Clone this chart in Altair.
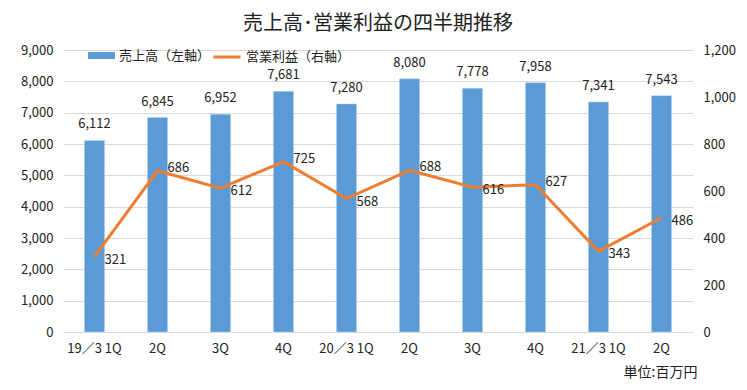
import json
import altair as alt
import pandas as pd

# ---- data ----
quarter_labels = ["19／3 1Q", "2Q", "3Q", "4Q", "20／3 1Q", "2Q", "3Q", "4Q", "21／3 1Q", "2Q"]
sales = [6112, 6845, 6952, 7681, 7280, 8080, 7778, 7958, 7341, 7543]
profit = [321, 686, 612, 725, 568, 688, 616, 627, 343, 486]
left_ticks = [0, 1000, 2000, 3000, 4000, 5000, 6000, 7000, 8000, 9000]
right_ticks = [0, 200, 400, 600, 800, 1000, 1200]

SALES_NAME = "売上高（左軸）"
PROFIT_NAME = "営業利益（右軸）"
BLUE = "#5B9BD5"
ORANGE = "#ED7D31"
FONT = "Noto Sans CJK JP"

df = pd.DataFrame({
    "idx": list(range(len(quarter_labels))),
    "sales": sales,
    "profit": profit,
    "s_series": SALES_NAME,
    "p_series": PROFIT_NAME,
})

label_expr = json.dumps(quarter_labels, ensure_ascii=False) + "[datum.value]"

x = alt.X(
    "idx:O",
    scale=alt.Scale(paddingInner=0.68, paddingOuter=0.34),
    axis=alt.Axis(
        labelExpr=label_expr, labelAngle=0, ticks=False, domain=True,
        domainColor="#D9D9D9", labelPadding=10, labelFontSize=13,
        title="単位:百万円", titleAnchor="end", titleAlign="right",
        titleX=634, titleY=44, titleBaseline="alphabetic",
        titleFontSize=14, titleFontWeight="normal", titleColor="#222",
    ),
)

y_l = alt.Y("sales:Q", scale=alt.Scale(domain=[0, 9000], nice=False),
            axis=alt.Axis(values=left_ticks, format=",.0f", grid=True, gridColor="#D9D9D9",
                          domain=False, ticks=False, labelPadding=10, labelFontSize=13, title=None))

y_r = alt.Y("profit:Q", scale=alt.Scale(domain=[0, 1200], nice=False),
            axis=alt.Axis(orient="right", values=right_ticks, format=",.0f", grid=False,
                          domain=False, ticks=False, labelPadding=10, labelFontSize=13, title=None))

base = alt.Chart(df)

bars = base.mark_bar(stroke="#BDD7EE", strokeWidth=0.5).encode(
    x=x,
    y=y_l,
    fill=alt.Fill("s_series:N", scale=alt.Scale(domain=[SALES_NAME], range=[BLUE]),
                  legend=alt.Legend(orient="none", legendX=25, legendY=-8, title=None,
                                    symbolType="M-1,-0.26L1,-0.26L1,0.26L-1,0.26Z",
                                    symbolSize=729, symbolStrokeWidth=0,
                                    labelFontSize=13, labelFont=FONT, labelColor="#222")),
)

bar_labels = base.mark_text(dy=-9, baseline="bottom", fontSize=13, font=FONT, color="#222").encode(
    x=x,
    y=y_l,
    text=alt.Text("sales:Q", format=","),
)

left = alt.layer(bars, bar_labels)

line = base.mark_line(strokeWidth=3).encode(
    x=x,
    y=y_r,
    stroke=alt.Stroke("p_series:N", scale=alt.Scale(domain=[PROFIT_NAME], range=[ORANGE]),
                      legend=alt.Legend(orient="none", legendX=149, legendY=-8, title=None,
                                        symbolType="stroke", symbolSize=729, symbolStrokeWidth=3,
                                        labelFontSize=13, labelFont=FONT, labelColor="#222")),
)

lab_base = base.transform_window(
    prev="lag(profit)", next="lead(profit)", sort=[alt.SortField("idx")]
).transform_calculate(
    kind="(datum.prev != null && datum.next != null && datum.profit >= datum.prev && datum.profit >= datum.next) ? 'peak' : 'trough'"
)

def plabel(kind, dy):
    return lab_base.transform_filter(f"datum.kind == '{kind}'").mark_text(
        align="left", dx=10, dy=dy, baseline="middle", fontSize=13, font=FONT, color="#222"
    ).encode(
        x=x,
        y=y_r,
        text=alt.Text("profit:Q", format=","),
    )

right = alt.layer(line, plabel("peak", -3), plabel("trough", 3))

chart = alt.layer(left, right).resolve_scale(y="independent", fill="independent", stroke="independent").properties(
    width=630, height=282,
    autosize=alt.AutoSizeParams(type="none"),
    padding={"left": 55, "top": 42, "right": 46, "bottom": 50},
    title=alt.Title("売上高･営業利益の四半期推移", fontSize=20, fontWeight="normal", font=FONT,
                    color="#222", anchor="middle", offset=8),
).configure_view(stroke=None).configure_axis(
    labelFont=FONT, titleFont=FONT, labelColor="#222"
)

chart.save("out.html", embed_options={"renderer": "svg", "actions": False})
